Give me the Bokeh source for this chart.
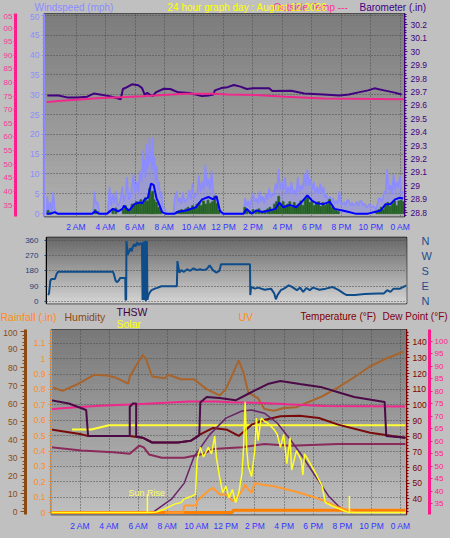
import numpy as np
from bokeh.plotting import figure
from bokeh.layouts import column
from bokeh.models import Range1d, LinearAxis, FixedTicker, CustomJSTickFormatter, Label
from bokeh.embed import file_html
from bokeh.resources import INLINE
from bokeh.core.properties import value

FONT = "Liberation Sans"
BG = "#c0c0c0"
GRID_COLOR = "#4a4a4a"
W = 450

# ---------------- time axis ----------------
HOUR_TICKS = [2, 4, 6, 8, 10, 12, 14, 16, 18, 20, 22, 24]
HOUR_LABELS = ["2 AM", "4 AM", "6 AM", "8 AM", "10 AM", "12 PM",
               "2 PM", "4 PM", "6 PM", "8 PM", "10 PM", "0 AM"]

# ---------------- panel 1 : wind / barometer ----------------
GUST_T = [0.00, 0.05, 0.15, 0.25, 0.35, 0.45, 0.55, 0.70, 3.15, 3.25, 3.35, 3.45, 3.55, 3.62,
          4.16, 4.27, 4.38, 4.49, 4.60, 4.71, 4.82, 4.92, 5.03, 5.14, 5.25, 5.36, 5.46, 5.57,
          5.68, 5.79, 5.90, 6.00, 6.11, 6.22, 6.33, 6.44, 6.55, 6.60, 6.65, 6.70, 6.76, 6.82,
          6.87, 6.93, 6.98, 7.04, 7.09, 7.15, 7.20, 7.25, 7.30, 7.40, 7.48, 7.56, 7.63, 7.70,
          7.78, 7.87, 7.95, 8.17, 8.60, 8.70, 8.82, 8.92, 9.03, 9.14, 9.25, 9.36, 9.47, 9.58,
          9.68, 9.79, 9.90, 10.01, 10.12, 10.22, 10.33, 10.44, 10.55, 10.66, 10.77, 10.88,
          10.98, 11.09, 11.20, 11.31, 11.42, 11.52, 11.63, 11.75, 11.85, 13.36, 13.47, 13.58,
          13.69, 13.80, 13.90, 14.01, 14.12, 14.23, 14.34, 14.45, 14.56, 14.66, 14.77, 14.88,
          14.99, 15.10, 15.21, 15.31, 15.42, 15.53, 15.63, 15.74, 15.85, 15.96, 16.07, 16.18,
          16.28, 16.39, 16.50, 16.61, 16.72, 16.83, 16.93, 17.04, 17.15, 17.26, 17.37, 17.48,
          17.58, 17.69, 17.80, 17.91, 18.02, 18.13, 18.23, 18.34, 18.45, 18.56, 18.67, 18.78,
          18.89, 18.99, 19.10, 19.21, 19.32, 19.43, 19.53, 19.64, 19.75, 19.86, 19.97, 20.07,
          20.18, 20.29, 20.40, 20.51, 20.62, 20.72, 20.83, 20.94, 21.05, 21.15, 21.26, 21.37,
          21.48, 21.59, 21.70, 21.81, 21.92, 22.02, 22.13, 22.24, 22.35, 22.45, 22.56, 22.67,
          22.78, 22.89, 22.99, 23.10, 23.21, 23.32, 23.43, 23.54, 23.64, 23.75, 23.86, 23.97,
          24.08, 24.19]
GUST_V = [0, 4.4, 0.5, 2.9, 0.3, 5.6, 1.0, 0, 0, 5.6, 2.5, 3.0, 1.0, 0,
          0, 6.8, 2.0, 5.0, 2.5, 5.6, 2.0, 2.4, 4.0, 6.8, 3.0, 5.0, 9.2, 3.5,
          4.0, 7.0, 10.0, 5.0, 8.0, 5.5, 10.8, 8.0, 16.0, 10.0, 13.6, 9.0, 17.6, 11.0,
          14.4, 12.0, 19.2, 13.0, 16.0, 11.0, 19.2, 12.0, 14.4, 8.0, 12.0, 6.0, 8.0, 4.0,
          5.6, 2.0, 1.6, 0, 0, 4.0, 5.6, 3.0, 4.0, 2.5, 5.4, 3.0, 3.2, 4.0,
          6.0, 3.5, 7.6, 4.0, 4.8, 5.0, 9.6, 5.5, 8.0, 6.0, 12.4, 7.0,
          8.8, 6.0, 10.8, 5.0, 4.8, 3.5, 3.2, 1.0, 0, 0, 4.0, 2.0,
          3.2, 1.5, 4.0, 5.2, 3.0, 3.8, 2.5, 5.6, 3.0, 4.4, 2.5, 5.0,
          3.5, 6.4, 4.0, 5.0, 4.5, 7.6, 6.0, 11.2, 6.0, 8.0, 6.0, 9.2,
          5.0, 6.8, 5.0, 8.0, 5.0, 6.0, 4.5, 9.2, 5.5, 7.2, 6.0, 10.0,
          7.0, 11.2, 7.0, 8.8, 6.0, 8.0, 5.0, 6.8, 5.0, 7.6, 5.0, 6.8,
          4.0, 4.8, 3.0, 4.4, 3.0, 4.0, 2.5, 3.2, 2.5, 5.6, 2.5, 2.4,
          3.0, 2.0, 3.5, 3.2, 2.0, 2.8, 2.0, 2.4, 3.0, 2.0, 3.2, 3.2,
          2.0, 2.5, 1.5, 2.0, 2.5, 1.6, 2.0, 1.6, 1.0, 2.5, 4.0, 3.6,
          3.0, 5.6, 5.0, 11.2, 6.0, 7.2, 5.0, 10.0, 6.0, 8.0, 6.5, 9.6,
          5.0, 5.6]

AVG_T = [0.00, 0.30, 0.55, 0.75, 3.10, 3.30, 3.55, 4.10, 4.50, 4.85, 5.15, 5.25, 5.55, 5.65,
         5.95, 6.30, 6.50, 6.65, 6.87, 7.09, 7.27, 7.45, 7.63, 7.84, 8.06, 8.70, 8.85, 9.47,
         10.12, 10.55, 10.98, 11.30, 11.53, 11.75, 11.97, 13.36, 13.58, 13.90, 14.23, 14.66,
         15.10, 15.53, 15.79, 16.07, 16.50, 16.93, 17.37, 17.69, 18.02, 18.34, 18.78, 19.21,
         19.53, 20.07, 20.51, 20.94, 21.81, 22.24, 22.67, 23.00, 23.32, 23.64, 23.97, 24.19]
AVG_V = [0, 0, 0.4, 0, 0, 0.6, 0, 0, 1.2, 0.6, 1.2, 2.0, 0.8, 1.0,
         2.4, 2.8, 2.6, 3.6, 4.0, 7.6, 7.2, 4.0, 2.4, 0.4, 0, 0, 0.4, 0.8,
         1.6, 3.6, 4.2, 3.6, 4.4, 0.8, 0, 0, 1.2, 0, 0.8, 0.4,
         0.8, 1.2, 2.8, 1.6, 2.2, 1.6, 3.2, 4.6, 3.2, 2.6, 2.4, 3.0,
         1.2, 0.8, 0.4, 0, 0, 0.4, 0.8, 2.4, 2.4, 3.6, 4.0, 3.8]

WIND_T = [0.10, 0.30, 3.30, 3.45, 4.50, 4.70, 5.20, 5.35, 5.50, 5.65, 5.80, 5.95, 6.10, 6.25,
          6.40, 6.55, 6.70, 6.85, 7.00, 7.10, 7.20, 7.30, 7.45, 7.60, 7.75, 8.85, 9.00, 9.15,
          9.30, 9.45, 9.60, 9.75, 9.90, 10.05, 10.20, 10.35, 10.50, 10.65, 10.80, 10.95, 11.10,
          11.25, 11.40, 11.55, 11.70, 13.45, 13.60, 13.80, 14.00, 14.20, 14.40, 14.60, 14.80,
          15.00, 15.15, 15.30, 15.45, 15.60, 15.75, 15.90, 16.05, 16.20, 16.35, 16.50, 16.65,
          16.80, 16.95, 17.10, 17.25, 17.40, 17.55, 17.70, 17.85, 18.00, 18.15, 18.30, 18.45,
          18.60, 18.75, 18.90, 19.05, 19.20, 19.35, 19.50, 19.65, 19.80, 22.40, 22.55, 22.70,
          22.85, 23.00, 23.15, 23.30, 23.45, 23.60, 23.75, 23.90, 24.05, 24.20]
WIND_V = [0.8, 0.3, 1.0, 0.5, 0.8, 1.4, 1.0, 2.0, 1.2, 1.0, 2.4, 2.2, 3.0, 2.5,
          3.5, 2.6, 4.0, 3.2, 6.4, 5.0, 5.6, 3.5, 2.8, 1.5, 0.8, 0.5, 0.8, 1.0,
          0.6, 1.2, 1.6, 1.0, 2.0, 1.5, 2.4, 2.8, 2.0, 3.2, 2.4, 3.4, 2.6,
          3.0, 4.4, 2.5, 0.8, 1.6, 0.8, 0.5, 1.0, 0.6, 1.2, 0.6, 0.8,
          1.2, 1.6, 1.0, 2.4, 3.0, 4.4, 2.4, 3.0, 2.0, 2.4, 3.0, 1.6,
          2.8, 2.0, 2.4, 3.2, 2.0, 3.6, 4.2, 2.8, 3.2, 2.0, 2.6, 3.0,
          1.8, 2.8, 2.0, 2.4, 3.6, 1.6, 1.0, 0.8, 0.5, 0.6, 1.0, 1.6,
          1.0, 2.2, 2.8, 1.8, 2.6, 3.2, 2.0, 3.2, 3.4, 3.0]

BARO_T = [0.05, 0.81, 1.46, 2.11, 2.76, 3.19, 3.62, 4.27, 4.81, 5.03, 5.18, 5.46, 5.79, 6.22,
          6.48, 6.65, 6.83, 6.98, 7.20, 7.41, 7.95, 8.39, 8.93, 9.68, 10.12, 10.55, 10.98,
          11.31, 11.42, 11.85, 12.28, 12.71, 13.15, 13.58, 14.01, 15.10, 15.31, 16.61, 17.48,
          18.78, 19.86, 20.51, 21.16, 21.81, 22.24, 22.89, 23.54, 24.08]
BARO_V = [29.674, 29.674, 29.658, 29.658, 29.665, 29.688, 29.681, 29.669, 29.653, 29.646,
          29.722, 29.736, 29.757, 29.750, 29.729, 29.681, 29.693, 29.681, 29.669, 29.697,
          29.724, 29.722, 29.697, 29.693, 29.681, 29.669, 29.674, 29.681, 29.712, 29.729,
          29.736, 29.752, 29.740, 29.722, 29.727, 29.727, 29.707, 29.709, 29.688, 29.681,
          29.674, 29.681, 29.697, 29.712, 29.727, 29.712, 29.697, 29.681]

PINK_T = [0.0, 1.0, 2.3, 3.4, 5.4, 6.5, 8.2, 9.5, 11.4, 12.3, 14.2, 16.2, 18.8, 24.3]
PINK_V = [72.8, 73.3, 73.8, 74.2, 74.7, 75.0, 75.5, 75.9, 75.9, 75.6, 75.4, 74.8, 74.1, 73.9]

# ---------------- panel 2 : wind direction ----------------
DIR_T = [0.00, 0.06, 0.15, 0.24, 0.46, 0.57, 0.67, 4.39, 4.45, 4.56, 4.65, 4.78, 4.87, 5.22,
         5.24, 5.28, 5.30, 5.39, 5.48, 5.56, 5.65, 5.74, 5.83, 5.91, 6.02, 6.13, 6.26, 6.35,
         6.39, 6.44, 6.50, 6.57, 6.61, 6.68, 6.72, 6.79, 6.90, 7.00, 7.22, 7.44, 7.66, 8.71,
         8.75, 8.82, 8.88, 9.01, 9.19, 9.41, 9.62, 9.84, 10.06, 10.28, 10.50, 10.72, 10.93,
         11.15, 11.37, 11.59, 11.70, 13.66, 13.68, 13.73, 13.99, 14.21, 14.65, 15.08, 15.30,
         15.41, 15.52, 15.74, 15.96, 16.28, 16.50, 16.83, 17.05, 17.26, 17.48, 17.70, 17.92,
         18.36, 18.79, 19.23, 19.67, 19.99, 20.21, 20.76, 21.41, 22.29, 22.72, 22.94, 23.16,
         23.38, 23.81, 24.25]
DIR_V = [38, 48, 124, 133, 133, 162, 175, 175, 162, 124, 114, 124, 139, 139,
         10, 10, 356, 276, 295, 314, 295, 324, 337, 324, 349, 333, 343, 337,
         10, 352, 10, 358, 2, 356, 10, 38, 57, 67, 76, 82, 90, 90,
         238, 200, 171, 185, 175, 190, 181, 196, 185, 190, 185, 190, 213,
         185, 171, 181, 219, 219, 38, 86, 76, 82, 70, 76, 48,
         13, 38, 67, 76, 95, 86, 67, 82, 57, 80, 67, 82,
         70, 76, 86, 67, 48, 38, 38, 44, 48, 48, 67, 57,
         76, 76, 95]

# ---------------- panel 3 : temperature / humidity / solar ----------------
HUM_T = [0.13, 0.79, 1.89, 2.99, 3.87, 4.42, 5.30, 5.41, 6.29, 6.51, 6.95, 7.83, 8.05, 8.93,
         9.81, 10.69, 11.57, 12.01, 12.45, 12.89, 13.22, 13.55, 14.21, 14.65, 15.31, 15.97,
         16.85, 17.73, 18.61, 19.71, 20.81, 21.91, 23.01, 24.20]
HUM_V = [69, 67, 71, 76, 75.6, 74.5, 71, 75, 87, 85, 75, 74, 76, 73.5,
         73.5, 68, 64.5, 68, 76, 84, 77, 66, 63, 57, 56, 57.5,
         58, 61, 64, 69, 74.6, 80.7, 85, 88.8]

TEMP_T = [0.0, 2.1, 2.55, 5.41, 6.29, 6.95, 8.71, 9.59, 10.25, 11.13, 12.1, 12.89, 13.77,
          14.63, 15.75, 17.07, 18.39, 19.71, 21.91, 23.45, 24.33]
TEMP_V = [84.3, 81.2, 80.2, 80.2, 79.1, 76.0, 76.0, 77.1, 81.2, 85.3, 84.1, 80.2, 87.4,
          90.3, 92.8, 93.1, 91.6, 87.4, 82.2, 80.2, 79.1]

THSW_T = [0.0, 1.23, 2.42, 2.55, 5.41, 5.41, 5.63, 5.85, 5.85, 6.29, 6.95, 8.71, 9.59, 10.18,
          10.25, 10.69, 11.57, 12.67, 13.55, 14.87, 15.75, 17.07, 18.61, 19.71, 20.81, 22.90,
          23.01, 24.33]
THSW_V = [102.9, 100.9, 96.7, 80.2, 80.2, 98.8, 100.9, 100.9, 79.8, 79.1, 76.0, 76.0, 77.1,
          80.5, 101.5, 105.0, 104.4, 102.9, 107.1, 113.3, 115.3, 113.3, 111.2, 108.1, 105.0,
          101.9, 80.2, 79.1]

DEW_T = [0.0, 2.1, 4.3, 5.41, 6.07, 6.37, 6.73, 7.61, 9.15, 10.47, 11.13, 13.11, 14.65, 16.41,
         19.71, 24.33]
DEW_V = [72.9, 70.9, 69.8, 68.8, 74.0, 72.9, 68.4, 66.3, 66.3, 68.8, 71.9, 72.9, 75.0, 74.0,
         75.0, 75.0]

REF_T = [1.45, 2.77, 3.98, 24.33]
REF_V = [84.3, 84.3, 87.0, 87.0]

SOLAR_T = [0.0, 6.51, 7.17, 7.83, 8.49, 8.93, 9.15, 9.37, 9.70, 9.92, 10.03, 10.25, 10.47, 10.80,
           11.02, 11.24, 11.35, 11.57, 11.79, 12.01, 12.23, 12.45, 12.67, 12.89, 13.11, 13.22,
           13.33, 13.44, 13.55, 13.77, 13.99, 14.10, 14.21, 14.43, 14.65, 14.87, 15.09, 15.31,
           15.53, 15.75, 15.97, 16.19, 16.41, 16.52, 16.85, 17.18, 17.29, 17.40, 17.73, 18.17,
           18.61, 18.83, 19.27, 19.93, 20.37, 20.50, 24.33]
SOLAR_V = [0, 0, 2, 31, 72, 86, 117, 127, 142, 158, 450, 558, 475, 558,
           502, 656, 475, 308, 169, 225, 127, 197, 86, 169, 336, 558,
           947, 531, 392, 308, 531, 808, 614, 808, 781, 766, 741, 711,
           669, 558, 669, 419, 641, 364, 531, 447, 322, 502, 433, 336,
           225, 86, 58, 25, 2, 0, 0]

CLEAR_T = [6.97, 8.27, 9.15, 9.81, 10.91, 12.01, 13.11, 13.77, 14.65, 15.53, 16.41, 17.29,
           18.17, 19.05, 19.71, 20.37, 20.70]
CLEAR_V = [0, 114, 252, 475, 669, 808, 869, 877, 850, 766, 627, 475, 308, 142, 58, 2, 0]

UV_T = [7.83, 9.08, 9.15, 10.02, 10.03, 10.25, 10.91, 11.13, 11.57, 12.01, 12.45, 12.67, 13.11,
        13.33, 13.55, 13.77, 13.99, 14.43, 15.31, 16.19, 17.07, 18.17, 19.05, 19.71, 20.37,
        20.81, 21.03]
UV_V = [0, 0, 1.2, 1.2, 2.0, 2.55, 3.95, 4.2, 3.1, 3.1, 2.0, 2.3, 3.7,
        4.8, 3.95, 3.4, 5.05, 4.8, 4.5, 3.95, 3.4, 2.55, 1.7, 0.9, 0.5,
        0.05, 0]

RAIN_T = [0.0, 12.45, 12.5, 24.33]
RAIN_V = [0.0, 0.0, 0.015, 0.015]

SUN_T = [6.62, 20.48]
SUN_TOP = [158, 142]

# ---------------- header texts ----------------
TOP_TEXTS = ["Windspeed (mph)", "Outside Temp ---", "24 hour graph day : August 12 2026",
             "Barometer (.in)"]
TOP_COLORS = ["#8c8cff", "#ff3399", "#ffff00", "#400080"]
TOP_X = [34, 273, 167, 359]

MID_TEXTS = ["Rainfall (.in)", "Humidity", "THSW", "Solar", "UV", "Temperature (°F)",
             "Dew Point (°F)"]
MID_COLORS = ["#ff8c1a", "#8b4a14", "#400040", "#ffff00", "#ff8c1a", "#800000", "#800020"]
MID_X = [0, 64, 116, 116, 238, 300, 382]
MID_Y = [10, 10, 5.5, 17, 10, 10, 10]
MID_SIZE = ["10.5px", "10.5px", "10.5px", "10.5px", "10.5px", "10px", "10px"]


def no_align(p):
    if "frame_align" in p.properties():
        p.frame_align = False


def fmt_trim():
    return CustomJSTickFormatter(code="""
        const s = tick.toFixed(1);
        return s.endsWith('.0') ? s.slice(0, -2) : s;
    """)


def gradient(p, x0, x1, y0, y1, top_grey, bottom_grey, n=48):
    edges = np.linspace(y0, y1, n + 1)
    cols = []
    for i in range(n):
        f = (i + 0.5) / n
        g = int(round(bottom_grey + (top_grey - bottom_grey) * f))
        cols.append("#%02x%02x%02x" % (g, g, g))
    p.quad(left=x0, right=x1, bottom=edges[:-1], top=edges[1:],
           fill_color=cols, line_color=cols, line_width=1, level="image")


def style_axis(ax, color, size="8.5px", tick_out=4, minor_out=2, standoff=2,
               line_color=None, line_width=1):
    ax.major_label_text_color = color
    ax.major_label_text_font = FONT
    ax.major_label_text_font_size = size
    ax.major_tick_line_color = color
    ax.minor_tick_line_color = color
    ax.major_tick_in = 0
    ax.minor_tick_in = 0
    ax.major_tick_out = tick_out
    ax.minor_tick_out = minor_out
    ax.major_label_standoff = standoff
    ax.axis_line_color = line_color if line_color is not None else color
    ax.axis_line_width = line_width


def pad_axis(ax, amount):
    ax.axis_label = " "
    ax.axis_label_text_font_size = "1px"
    ax.axis_label_standoff = amount


def hour_axis(ax, standoff):
    ax.ticker = FixedTicker(ticks=HOUR_TICKS)
    ax.major_label_overrides = {t: l for t, l in zip(HOUR_TICKS, HOUR_LABELS)}
    ax.axis_line_color = None
    ax.major_tick_line_color = None
    ax.minor_tick_line_color = None
    ax.major_tick_out = 0
    ax.major_label_standoff = standoff
    ax.major_label_text_color = "#3333ff"
    ax.major_label_text_font = FONT
    ax.major_label_text_font_size = "8.5px"


def text_strip(height, texts, colors, xs, ys, sizes):
    s = figure(width=W, height=height, x_range=Range1d(0, W), y_range=Range1d(height, 0),
               output_backend="svg", toolbar_location=None,
               x_axis_location=None, y_axis_location=None, min_border=0,
               border_fill_color=BG, background_fill_color=BG, outline_line_color=None)
    no_align(s)
    s.grid.visible = False
    for t, c, x, y, fs in zip(texts, colors, xs, ys, sizes):
        s.text(x=[x], y=[y], text=[t], text_color=c, text_font=value(FONT),
               text_font_size=fs, text_baseline="middle", text_align="left")
    return s


# =============== header strip ===============
s1 = text_strip(13, TOP_TEXTS, TOP_COLORS, TOP_X, [6.5] * 4, ["10px"] * 4)

# =============== PANEL 1 ===============
X1 = (-0.14, 24.28)
WS = (-0.72, 50.48)
p1 = figure(width=W, height=221, x_range=Range1d(*X1), y_range=Range1d(*WS),
            output_backend="svg", toolbar_location=None,
            min_border_left=41, min_border_right=46, min_border_top=0, min_border_bottom=17,
            border_fill_color=BG, background_fill_color="#999999",
            outline_line_color="#000000", outline_line_width=1.5)
no_align(p1)
p1.extra_y_ranges = {"pink": Range1d(30.79, 105.35), "baro": Range1d(28.7716, 30.285)}
gradient(p1, X1[0], X1[1], WS[0], WS[1], 0x7c, 0xb0)

ws_ax = p1.yaxis[0]
ws_ax.ticker = FixedTicker(ticks=list(range(0, 55, 5)), minor_ticks=list(range(0, 51)))
style_axis(ws_ax, "#8c8cff", tick_out=3, minor_out=2, standoff=2)
pad_axis(ws_ax, 7)

pink_ax = LinearAxis(y_range_name="pink",
                     ticker=FixedTicker(ticks=list(range(35, 110, 5)), minor_ticks=list(range(31, 106))),
                     major_label_overrides={100: "00", 105: "05"})
style_axis(pink_ax, "#ff3399", size="8px", tick_out=2, minor_out=1, standoff=1,
           line_color="#ff1a8c", line_width=3)
p1.add_layout(pink_ax, "left")

baro_ax = LinearAxis(y_range_name="baro",
                     ticker=FixedTicker(ticks=[round(28.8 + 0.1 * i, 1) for i in range(15)],
                                        minor_ticks=[round(28.78 + 0.02 * i, 2) for i in range(76)]),
                     formatter=fmt_trim())
style_axis(baro_ax, "#400080", tick_out=3, minor_out=2, standoff=3, line_color="#400080")
p1.add_layout(baro_ax, "right")

hour_axis(p1.xaxis[0], 5)

p1.xgrid.ticker = FixedTicker(ticks=HOUR_TICKS)
p1.ygrid.ticker = FixedTicker(ticks=list(range(5, 55, 5)))
p1.grid.grid_line_color = GRID_COLOR
p1.grid.grid_line_dash = "1 2"
p1.grid.grid_line_width = 1

p1.varea(x=GUST_T, y1=0, y2=GUST_V, fill_color="#8c8cff", fill_alpha=0.45)
p1.line(GUST_T, GUST_V, line_color="#8c8cff", line_width=1.6)
p1.vbar(x=WIND_T, top=WIND_V, bottom=0, width=0.12, fill_color="#1f5a1f", line_color="#2f6a2f")
p1.line(AVG_T, AVG_V, line_color="#0000ff", line_width=2)
p1.line(BARO_T, BARO_V, y_range_name="baro", line_color="#400080", line_width=2)
p1.line(PINK_T, PINK_V, y_range_name="pink", line_color="#f0288c", line_width=2)

# =============== PANEL 2 ===============
X2 = (-0.11, 24.25)
DR = (-11.4, 377.1)
p2 = figure(width=W, height=72, x_range=Range1d(*X2), y_range=Range1d(*DR),
            output_backend="svg", toolbar_location=None, x_axis_location=None,
            min_border_left=46, min_border_right=44, min_border_top=3, min_border_bottom=3,
            border_fill_color=BG, background_fill_color="#999999",
            outline_line_color="#000000", outline_line_width=1.5)
no_align(p2)
gradient(p2, X2[0], X2[1], DR[0], DR[1], 0x68, 0xd6)
dir_ticks = [0, 90, 180, 270, 360]
d_ax = p2.yaxis[0]
d_ax.ticker = FixedTicker(ticks=dir_ticks)
style_axis(d_ax, "#1f3f7a", size="8px", tick_out=2, minor_out=0, standoff=6, line_color="#000000")
cmp_ax = LinearAxis(ticker=FixedTicker(ticks=dir_ticks),
                    major_label_overrides={0: "N", 90: "E", 180: "S", 270: "W", 360: "N"})
style_axis(cmp_ax, "#1f4e8c", size="11px", tick_out=0, minor_out=0, standoff=15)
cmp_ax.axis_line_color = None
cmp_ax.major_tick_line_color = None
p2.add_layout(cmp_ax, "right")
p2.xgrid.visible = False
p2.ygrid.ticker = FixedTicker(ticks=dir_ticks)
p2.ygrid.grid_line_color = GRID_COLOR
p2.ygrid.grid_line_dash = "1 2"
p2.line(DIR_T, DIR_V, line_color="#0f4c8a", line_width=2)

# =============== label strip ===============
s3 = text_strip(23, MID_TEXTS, MID_COLORS, MID_X, MID_Y, MID_SIZE)

# =============== PANEL 3 ===============
X3 = (0.04, 24.4)
RN = (-0.0127, 1.19)
p3 = figure(width=W, height=209, x_range=Range1d(*X3), y_range=Range1d(*RN),
            output_backend="svg", toolbar_location=None,
            min_border_left=50, min_border_right=43, min_border_top=0, min_border_bottom=24,
            border_fill_color=BG, background_fill_color="#999999",
            outline_line_color="#000000", outline_line_width=1.5)
no_align(p3)
p3.extra_y_ranges = {"hum": Range1d(-1.6, 101.1), "temp": Range1d(30.06, 148.1),
                     "dew": Range1d(30.72, 104.67), "solar": Range1d(-16.7, 1566),
                     "uv": Range1d(-0.33, 31.33)}
gradient(p3, X3[0], X3[1], RN[0], RN[1], 0x78, 0xc0)

r_ax = p3.yaxis[0]
r_ax.ticker = FixedTicker(ticks=[round(0.1 * i, 1) for i in range(13)],
                          minor_ticks=[round(0.02 * i, 2) for i in range(60)])
r_ax.formatter = fmt_trim()
style_axis(r_ax, "#ff8c1a", tick_out=3, minor_out=2, standoff=3)
pad_axis(r_ax, 1)

h_ax = LinearAxis(y_range_name="hum",
                  ticker=FixedTicker(ticks=list(range(0, 110, 10)), minor_ticks=list(range(0, 101, 2))))
style_axis(h_ax, "#8b4a14", tick_out=5, minor_out=3, standoff=3, line_color="#8b4a14", line_width=3)
p3.add_layout(h_ax, "left")

t_ax = LinearAxis(y_range_name="temp",
                  ticker=FixedTicker(ticks=list(range(40, 150, 10)), minor_ticks=list(range(32, 148, 2))))
style_axis(t_ax, "#800000", tick_out=3, minor_out=2, standoff=3, line_color="#800000")
p3.add_layout(t_ax, "right")

dw_ax = LinearAxis(y_range_name="dew",
                   ticker=FixedTicker(ticks=list(range(35, 110, 5)), minor_ticks=list(range(31, 105))))
style_axis(dw_ax, "#ff1a8c", size="8px", tick_out=3, minor_out=1, standoff=2,
           line_color="#ff1a8c", line_width=3)
p3.add_layout(dw_ax, "right")

hour_axis(p3.xaxis[0], 6)

p3.xgrid.ticker = FixedTicker(ticks=HOUR_TICKS)
p3.ygrid.ticker = FixedTicker(ticks=[round(0.1 * i, 1) for i in range(1, 12)])
p3.grid.grid_line_color = GRID_COLOR
p3.grid.grid_line_dash = "1 2"

p3.line(HUM_T, HUM_V, y_range_name="hum", line_color="#a8642a", line_width=2)
p3.line(PINK_T, PINK_V, y_range_name="dew", line_color="#f0288c", line_width=2)
p3.line(REF_T, REF_V, y_range_name="temp", line_color="#ffff33", line_width=2)
p3.line(DEW_T, DEW_V, y_range_name="temp", line_color="#8a2a5a", line_width=2)
p3.line(TEMP_T, TEMP_V, y_range_name="temp", line_color="#7a0a0a", line_width=2)
p3.line(THSW_T, THSW_V, y_range_name="temp", line_color="#4b0a46", line_width=2)
p3.line(CLEAR_T, CLEAR_V, y_range_name="solar", line_color="#6a2468", line_width=1.5)
p3.line(RAIN_T, RAIN_V, line_color="#ff8000", line_width=3)
p3.line(UV_T, UV_V, y_range_name="uv", line_color="#ff9a30", line_width=2)
p3.line(SOLAR_T, SOLAR_V, y_range_name="solar", line_color="#ffff22", line_width=1.5)
p3.segment(x0=SUN_T, y0=[0, 0], x1=SUN_T, y1=SUN_TOP, y_range_name="solar",
           line_color="#ffff44", line_width=1.5)
p3.add_layout(Label(x=5.32, y=169, y_range_name="solar", text="Sun Rise", text_color="#ffff66",
                    text_font=FONT, text_font_size="9px", text_baseline="middle"))

layout = column(s1, p1, p2, s3, p3, spacing=0)
layout.styles = {"background-color": BG}
open("out.html", "w").write(file_html(layout, INLINE))
